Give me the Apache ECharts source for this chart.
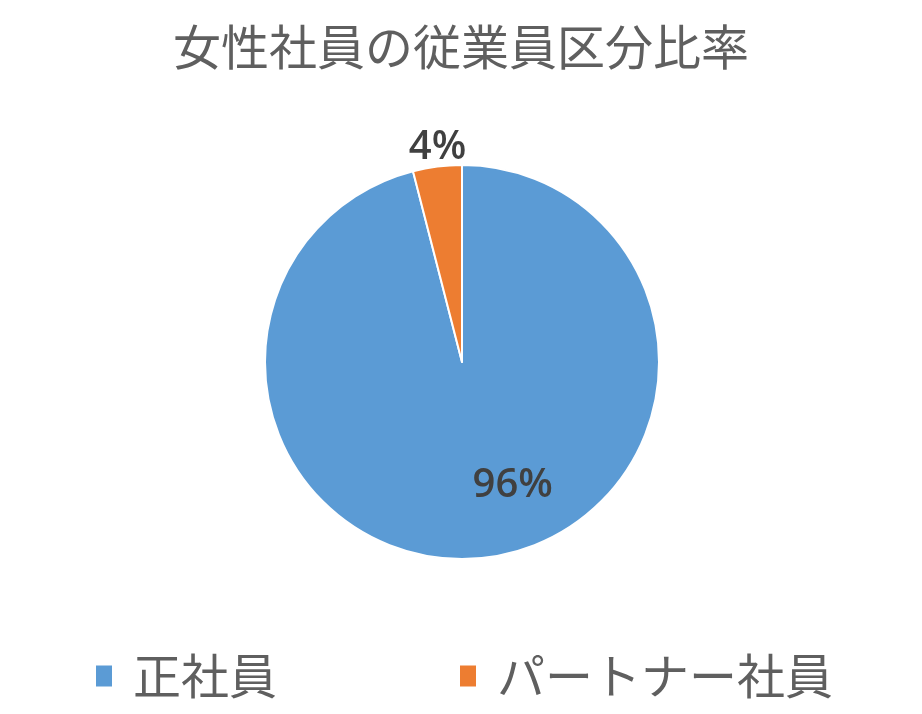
<!DOCTYPE html>
<html>
<head>
<meta charset="utf-8">
<script src="https://cdn.jsdelivr.net/npm/echarts@6/dist/echarts.min.js"></script>
<style>
html,body{margin:0;padding:0;background:#fff;}
#chart{width:922px;height:714px;}
</style>
</head>
<body>
<div id="chart"></div>
<script>
const titleText = '女性社員の従業員区分比率';
const categories = ['正社員', 'パートナー社員'];
const values = [96, 4];
const colors = ['#5B9BD5', '#ED7D31'];

const chart = echarts.init(document.getElementById('chart'));
chart.setOption({
  backgroundColor: '#ffffff',
  animation: false,
  color: colors,
  title: {
    text: titleText,
    left: 'center',
    top: 18,
    textStyle: {
      fontFamily: 'Noto Sans CJK JP',
      fontSize: 48,
      fontWeight: 'normal',
      color: '#5f5f5f'
    }
  },
  legend: {
    left: 96,
    top: 652,
    padding: 0,
    itemGap: 183,
    itemWidth: 16,
    itemHeight: 21,
    icon: 'rect',
    itemStyle: { borderWidth: 0 },
    data: categories,
    textStyle: {
      fontFamily: 'Noto Sans CJK JP',
      fontSize: 48,
      color: '#5f5f5f',
      padding: [0, 0, 0, 16]
    }
  },
  series: [{
    type: 'pie',
    center: [462, 362],
    radius: 197,
    startAngle: 90,
    clockwise: true,
    data: categories.map((c, i) => ({ name: c, value: values[i] })),
    itemStyle: { borderColor: '#ffffff', borderWidth: 2 },
    label: {
      show: true,
      position: 'inside',
      formatter: '{d}%',
      fontFamily: 'Open Sans',
      fontSize: 40,
      fontWeight: 600,
      color: '#404040'
    },
    labelLine: { show: false },
    labelLayout: function (p) {
      if (p.dataIndex === 0) {
        return { dx: 38, dy: 23 };
      }
      return {
        x: p.rect.x + p.rect.width / 2,
        y: p.rect.y + 4,
        align: 'center',
        verticalAlign: 'bottom'
      };
    }
  }]
});
</script>
</body>
</html>
